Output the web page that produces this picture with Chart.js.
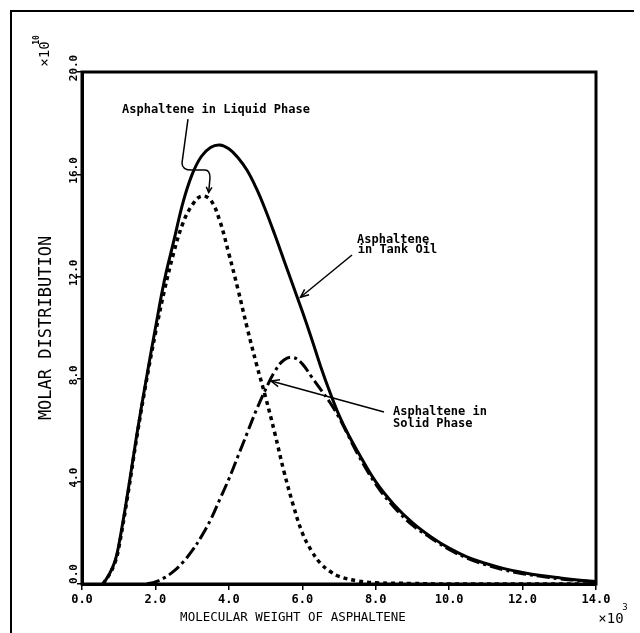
<!DOCTYPE html>
<html><head><meta charset="utf-8">
<script src="https://cdn.jsdelivr.net/npm/chart.js@4.4.1/dist/chart.umd.min.js"></script>
<style>html,body{margin:0;padding:0;background:#fff;}canvas{display:block;}</style>
</head><body>
<canvas id="c" width="640" height="633"></canvas>
<script>
// ---- data (molecular weight in 10^3, molar distribution in 10^10) ----
const xTickLabels = ['0.0','2.0','4.0','6.0','8.0','10.0','12.0','14.0'];
const yTickLabels = ['0.0','4.0','8.0','12.0','16.0','20.0'];

const tankX = [0.57,0.75,0.9,1.0,1.25,1.5,1.75,2.0,2.25,2.5,2.75,3.0,3.25,3.5,3.75,4.0,4.25,4.5,4.75,5.0,5.25,5.5,5.75,6.0,6.25,6.5,6.75,7.0,7.25,7.5,8.0,8.5,9.0,9.5,10.0,10.5,11.0,11.5,12.0,12.5,13.0,13.5,14.0];
const tankY = [0,0.4,0.9,1.5,3.6,5.9,8.0,10.0,11.9,13.4,14.9,16.0,16.7,17.05,17.15,17.0,16.65,16.15,15.45,14.6,13.65,12.65,11.65,10.65,9.6,8.5,7.5,6.6,5.85,5.2,4.0,3.1,2.4,1.85,1.4,1.05,0.8,0.6,0.45,0.33,0.24,0.16,0.1];

const liquidX = [0.57,0.75,0.9,1.0,1.25,1.5,1.75,2.0,2.25,2.5,2.75,3.0,3.25,3.5,3.75,4.0,4.25,4.5,4.75,5.0,5.25,5.5,5.75,6.0,6.25,6.5,6.75,7.0,7.5,8.0,9.0,10.0,12.0,14.0];
const liquidY = [0,0.38,0.85,1.4,3.5,5.8,7.9,9.8,11.5,12.95,14.1,14.8,15.15,15.0,14.2,12.9,11.5,10.0,8.6,7.3,5.9,4.4,3.1,2.0,1.3,0.8,0.5,0.3,0.12,0.05,0.02,0,0,0];

const solidX = [1.77,2.0,2.25,2.5,2.75,3.0,3.25,3.5,3.75,4.0,4.25,4.5,4.75,5.0,5.25,5.5,5.75,6.0,6.25,6.5,6.75,7.0,7.25,7.5,8.0,8.5,9.0,9.5,10.0,10.5,11.0,11.5,12.0,12.5,13.0,13.5,14.0];
const solidY = [0,0.08,0.25,0.5,0.85,1.3,1.85,2.5,3.3,4.1,5.0,5.9,6.8,7.6,8.3,8.75,8.85,8.6,8.1,7.6,7.1,6.5,5.8,5.1,3.9,3.0,2.3,1.8,1.35,1.0,0.75,0.55,0.4,0.3,0.2,0.14,0.08];

const xTitle = 'MOLECULAR WEIGHT OF ASPHALTENE';
const yTitle = 'MOLAR DISTRIBUTION';
const labelTank = ['Asphaltene','in Tank Oil'];
const labelSolid = ['Asphaltene in','Solid Phase'];
const labelLiquid = 'Asphaltene in Liquid Phase';

const MONO = '"DejaVu Sans Mono","Liberation Mono",monospace';
function pts(xs, ys){ return xs.map((x,i)=>({x:x, y:ys[i]})); }

function arrowHead(ctx, x1, y1, x2, y2, len, ang){
  const a = Math.atan2(y2-y1, x2-x1);
  ctx.beginPath();
  ctx.moveTo(x2 - len*Math.cos(a-ang), y2 - len*Math.sin(a-ang));
  ctx.lineTo(x2, y2);
  ctx.lineTo(x2 - len*Math.cos(a+ang), y2 - len*Math.sin(a+ang));
  ctx.stroke();
}

const decor = {
  id: 'decor',
  afterDatasetsDraw(chart){
    const ctx = chart.ctx, ca = chart.chartArea;
    const xs = chart.scales.x, ys = chart.scales.y;
    const P = (x,y)=>[xs.getPixelForValue(x), ys.getPixelForValue(y)];
    ctx.save();
    ctx.strokeStyle = '#000'; ctx.fillStyle = '#000';
    // outer frame
    ctx.lineWidth = 2;
    ctx.beginPath(); ctx.moveTo(11, 640); ctx.lineTo(11, 11); ctx.lineTo(634, 11); ctx.stroke();
    // plot border
    ctx.lineWidth = 3;
    ctx.strokeRect(ca.left, ca.top, ca.right-ca.left, ca.bottom-ca.top);

    // rotated y tick labels
    ctx.font = 'bold 11px ' + MONO;
    ctx.textAlign = 'center'; ctx.textBaseline = 'middle';
    yTickLabels.forEach((t,i)=>{
      const yv = parseFloat(t);
      const py = ys.getPixelForValue(yv) - (i===0 ? 10 : 4);
      ctx.save(); ctx.translate(74, py); ctx.rotate(-Math.PI/2); ctx.fillText(t, 0, 0); ctx.restore();
    });
    // y title
    ctx.font = '17px ' + MONO;
    ctx.save(); ctx.translate(47, (ca.top+ca.bottom)/2); ctx.rotate(-Math.PI/2); ctx.fillText(yTitle, 0, 0); ctx.restore();
    // y exponent
    ctx.save(); ctx.translate(45, 54); ctx.rotate(-Math.PI/2);
    ctx.font = '14px ' + MONO; ctx.fillText('\u00d710', 0, 0);
    ctx.font = 'bold 8px ' + MONO; ctx.fillText('10', 14, -8);
    ctx.restore();
    // x title
    ctx.font = '12.5px ' + MONO;
    ctx.fillText(xTitle, 293, 618);
    // x exponent
    ctx.font = '14px ' + MONO; ctx.fillText('\u00d710', 611, 619);
    ctx.font = '9px ' + MONO; ctx.fillText('3', 625, 608);

    // annotations
    ctx.font = 'bold 12px ' + MONO;
    ctx.textAlign = 'left'; ctx.textBaseline = 'top';
    ctx.lineWidth = 1.5;
    // liquid
    let p = P(1.09, 18.75); ctx.fillText(labelLiquid, p[0], p[1]);
    ctx.beginPath();
    let a = P(2.887, 18.16), b = P(2.724, 16.45), c1 = P(2.724, 16.17), c = P(2.996, 16.17),
        d = P(3.35, 16.17), c2 = P(3.486, 16.17), e = P(3.486, 15.86), f = P(3.45, 15.3);
    ctx.moveTo(a[0], a[1]); ctx.lineTo(b[0], b[1]);
    ctx.quadraticCurveTo(c1[0], c1[1], c[0], c[1]);
    ctx.lineTo(d[0], d[1]);
    ctx.quadraticCurveTo(c2[0], c2[1], e[0], e[1]);
    ctx.lineTo(f[0], f[1]);
    ctx.stroke();
    arrowHead(ctx, e[0], e[1], f[0], f[1], 6, 0.5);
    // tank
    p = P(7.49, 13.67); ctx.fillText(labelTank[0], p[0], p[1]);
    p = P(7.51, 13.28); ctx.fillText(labelTank[1], p[0], p[1]);
    a = P(7.354, 12.85); b = P(5.95, 11.2);
    ctx.beginPath(); ctx.moveTo(a[0], a[1]); ctx.lineTo(b[0], b[1]); ctx.stroke();
    arrowHead(ctx, a[0], a[1], b[0], b[1], 9, 0.4);
    // solid
    p = P(8.471, 6.95); ctx.fillText(labelSolid[0], p[0], p[1]);
    p = P(8.471, 6.48); ctx.fillText(labelSolid[1], p[0], p[1]);
    a = P(8.226, 6.72); b = P(5.15, 7.93);
    ctx.beginPath(); ctx.moveTo(a[0], a[1]); ctx.lineTo(b[0], b[1]); ctx.stroke();
    arrowHead(ctx, a[0], a[1], b[0], b[1], 9, 0.4);
    ctx.restore();
  }
};

const lineBase = { borderColor: '#000', pointRadius: 0, tension: 0.4, fill: false };

new Chart(document.getElementById('c'), {
  type: 'line',
  data: {
    datasets: [
      Object.assign({ label: 'Asphaltene in Tank Oil', data: pts(tankX, tankY), borderWidth: 3 }, lineBase),
      Object.assign({ label: 'Asphaltene in Liquid Phase', data: pts(liquidX, liquidY), borderWidth: 3.5, borderDash: [4,4] }, lineBase),
      Object.assign({ label: 'Asphaltene in Solid Phase', data: pts(solidX, solidY), borderWidth: 3, borderDash: [13,4,3,4] }, lineBase)
    ]
  },
  options: {
    responsive: false, animation: false, devicePixelRatio: 1,
    layout: { padding: { left: 0, top: 72, right: 44, bottom: 0 } },
    plugins: { legend: { display: false }, tooltip: { enabled: false } },
    scales: {
      x: {
        type: 'linear', min: 0, max: 14,
        afterFit(s){ s.height = 49; },
        grid: { display: true, drawOnChartArea: false, drawTicks: true, tickLength: 6, color: '#000', lineWidth: 1.5 },
        border: { display: true, color: '#000', width: 3 },
        ticks: { stepSize: 2, color: '#000', padding: 3, maxRotation: 0,
          font: { family: MONO, size: 12, weight: 'bold' },
          callback: (v)=> xTickLabels[Math.round(v/2)] }
      },
      y: {
        type: 'linear', min: 0, max: 20,
        afterFit(s){ s.width = 82; },
        grid: { display: true, drawOnChartArea: false, drawTicks: true, tickLength: 5, color: '#000', lineWidth: 1.5 },
        border: { display: true, color: '#000', width: 3 },
        ticks: { stepSize: 4, display: false }
      }
    }
  },
  plugins: [decor]
});
</script>
</body></html>
